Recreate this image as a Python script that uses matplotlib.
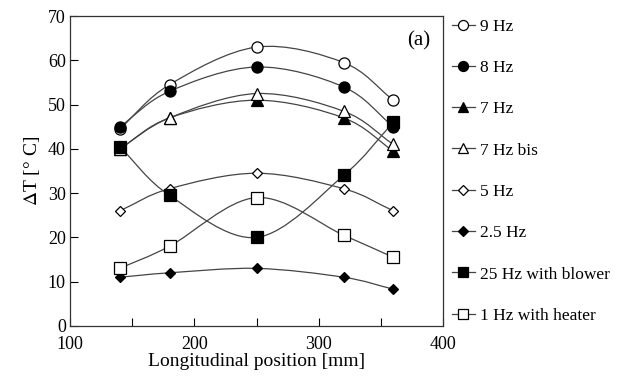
import numpy as np
import matplotlib.pyplot as plt
from matplotlib.lines import Line2D
from matplotlib.path import Path
from matplotlib.patches import PathPatch

plt.rcParams['font.family'] = ['Liberation Serif', 'DejaVu Serif']
plt.rcParams['mathtext.fontset'] = 'stix'

# Measurement positions along the tube [mm]
position = [140, 180, 250, 320, 360]

# Temperature difference for each run [deg C]
dt_9hz = [44.5, 54.5, 63.0, 59.5, 51.0]
dt_8hz = [45.0, 53.0, 58.5, 54.0, 45.0]
dt_7hz = [40.0, 47.0, 51.0, 47.0, 39.5]
dt_7hz_bis = [40.0, 47.0, 52.5, 48.5, 41.0]
dt_5hz = [26.0, 31.0, 34.5, 31.0, 26.0]
dt_2_5hz = [11.0, 12.0, 13.0, 11.0, 8.3]
dt_25hz_blower = [40.5, 29.5, 20.0, 34.0, 46.0]
dt_1hz_heater = [13.0, 18.0, 29.0, 20.5, 15.5]

labels = ['9 Hz', '8 Hz', '7 Hz', '7 Hz bis', '5 Hz', '2.5 Hz',
          '25 Hz with blower', '1 Hz with heater']


def smooth_path(x, y):
    # Catmull-Rom curve through the points, expressed as cubic Bezier segments
    x = np.asarray(x, float)
    y = np.asarray(y, float)
    pts = np.column_stack([x, y])
    ext = np.vstack([2 * pts[0] - pts[1], pts, 2 * pts[-1] - pts[-2]])
    verts = [pts[0]]
    codes = [Path.MOVETO]
    for i in range(1, len(ext) - 2):
        p0, p1, p2, p3 = ext[i - 1], ext[i], ext[i + 1], ext[i + 2]
        c1 = p1 + (p2 - p0) / 6
        c2 = p2 - (p3 - p1) / 6
        verts += [c1, c2, p2]
        codes += [Path.CURVE4] * 3
    return Path(verts, codes)


series = [dt_9hz, dt_8hz, dt_7hz, dt_7hz_bis, dt_5hz, dt_2_5hz, dt_25hz_blower, dt_1hz_heater]
styles = [
    dict(marker='o', mfc='white', ms=8),
    dict(marker='o', mfc='black', ms=8),
    dict(marker='^', mfc='black', ms=8),
    dict(marker='^', mfc='white', ms=8),
    dict(marker='D', mfc='white', ms=5.5),
    dict(marker='D', mfc='black', ms=5.5),
    dict(marker='s', mfc='black', ms=8.5),
    dict(marker='s', mfc='white', ms=8.5),
]
line_col = '#444444'

fig = plt.figure(figsize=(6.25, 3.83), dpi=100)
ax = fig.add_axes([0.112, 0.149, 0.597, 0.809])

handles = []
for y, st, lab in zip(series, styles, labels):
    ax.add_patch(PathPatch(smooth_path(position, y), fill=False, ec=line_col, lw=0.9, zorder=2))
    ax.plot(position, y, ls='none', marker=st['marker'], ms=st['ms'],
            mfc=st['mfc'], mec='black', mew=0.9, zorder=3)
    handles.append(Line2D([], [], color=line_col, lw=0.9, marker=st['marker'],
                          ms=st['ms'] * 0.9, mfc=st['mfc'], mec='black', mew=0.9))

ax.set_xlim(100, 400)
ax.set_ylim(0, 70)
ax.set_xticks([100, 200, 300, 400])
ax.set_xticks([150, 250, 350], minor=True)
ax.set_yticks(np.arange(0, 71, 10))
ax.tick_params(direction='in', length=6, width=0.8, labelsize=13, top=False, right=False)
ax.tick_params(which='minor', direction='in', length=6, width=0.8)
ax.tick_params(axis='x', pad=7)
ax.tick_params(axis='y', pad=3)
for s in ax.spines.values():
    s.set_linewidth(0.9)
    s.set_color('#333333')
ax.set_xlabel('Longitudinal position [mm]', fontsize=14, labelpad=0)
ax.set_ylabel(r'$\Delta$T [° C]', fontsize=14, labelpad=4)
ax.text(0.965, 0.95, '(a)', transform=ax.transAxes, ha='right', va='top', fontsize=15)

fig.legend(handles, labels, loc='upper left', bbox_to_anchor=(0.712, 0.97),
           frameon=False, fontsize=12.5, handlelength=1.3, handletextpad=0.3,
           labelspacing=1.45, borderaxespad=0)

fig.savefig('out.png', dpi=100)
